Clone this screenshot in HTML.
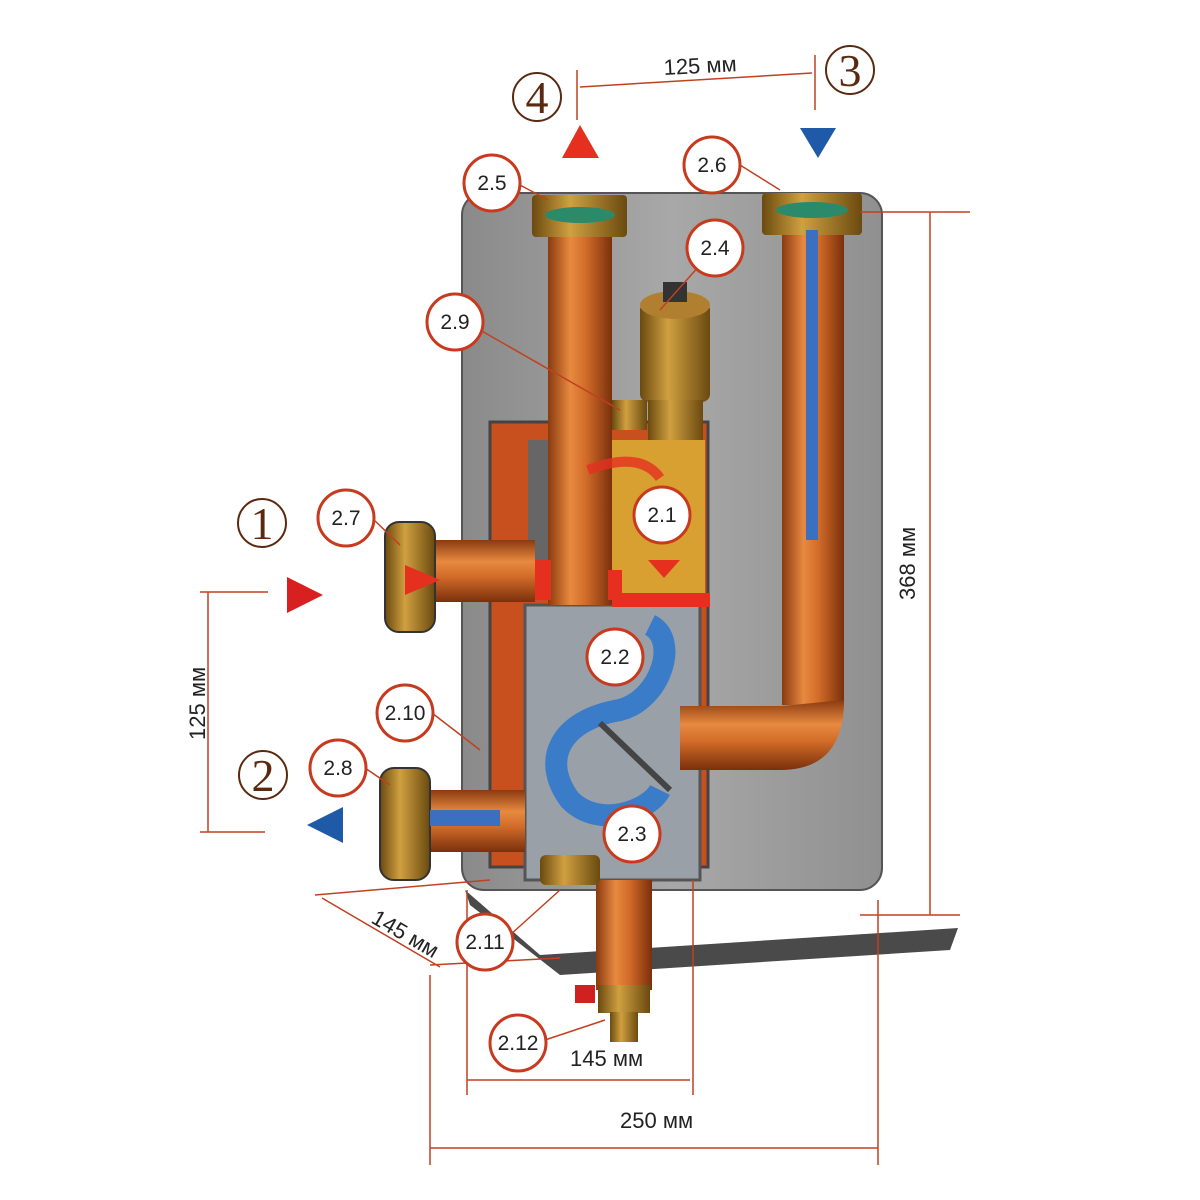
<!DOCTYPE html>
<html><head><meta charset="utf-8"><style>
html,body{margin:0;padding:0;background:#fff}
svg{display:block}
.lbl{font-family:"Liberation Sans",sans-serif;font-size:21px;fill:#222;text-anchor:middle}
.dim{font-family:"Liberation Sans",sans-serif;font-size:22px;fill:#222}
.big{font-family:"Liberation Serif",serif;font-size:46px;fill:#5a2a10;text-anchor:middle}
</style></head><body>
<svg width="1200" height="1200" viewBox="0 0 1200 1200" xmlns="http://www.w3.org/2000/svg">
<defs>
<linearGradient id="cu" x1="0" x2="1" y1="0" y2="0">
<stop offset="0" stop-color="#8a3a10"/><stop offset="0.35" stop-color="#e88a40"/><stop offset="0.6" stop-color="#d06a28"/><stop offset="1" stop-color="#7a300c"/></linearGradient>
<linearGradient id="cuh" x1="0" x2="0" y1="0" y2="1">
<stop offset="0" stop-color="#8a3a10"/><stop offset="0.35" stop-color="#e88a40"/><stop offset="0.6" stop-color="#d06a28"/><stop offset="1" stop-color="#7a300c"/></linearGradient>
<linearGradient id="br" x1="0" x2="1"><stop offset="0" stop-color="#6a4a10"/><stop offset="0.4" stop-color="#d0a040"/><stop offset="1" stop-color="#6a4a10"/></linearGradient>
<linearGradient id="gr" x1="0" x2="1"><stop offset="0" stop-color="#8a8a8a"/><stop offset="0.5" stop-color="#a8a8a8"/><stop offset="1" stop-color="#909090"/></linearGradient>
</defs>
<rect width="1200" height="1200" fill="#fff"/>
<!-- panel -->
<rect x="462" y="193" width="420" height="697" rx="22" fill="url(#gr)" stroke="#555" stroke-width="2"/>
<!-- bracket -->
<polygon points="465,890 470,905 560,975 950,950 958,928 540,955" fill="#4a4a4a"/>
<!-- orange box -->
<rect x="490" y="422" width="218" height="445" fill="#c8501e" stroke="#444" stroke-width="3"/>
<rect x="528" y="440" width="60" height="160" fill="#666"/>
<rect x="600" y="440" width="105" height="160" fill="#d8a030"/>
<!-- gray chamber -->
<rect x="525" y="605" width="175" height="275" fill="#9aa0a8" stroke="#555" stroke-width="3"/>
<path d="M650,625 C680,640 660,700 620,710 C560,720 540,760 570,800 C600,830 650,810 660,790" stroke="#3b7cc8" stroke-width="22" fill="none"/>
<line x1="600" y1="723" x2="670" y2="790" stroke="#444" stroke-width="6"/>
<!-- left vertical pipe -->
<rect x="548" y="215" width="64" height="390" fill="url(#cu)"/>
<rect x="532" y="195" width="95" height="42" fill="url(#br)" rx="4"/>
<ellipse cx="580" cy="215" rx="35" ry="8" fill="#2a8a6a"/>
<!-- right pipe -->
<rect x="782" y="215" width="62" height="490" fill="url(#cu)"/>
<path d="M844,700 Q844,770 780,770 L680,770 L680,706 L782,706 Z" fill="url(#cuh)"/>
<rect x="762" y="193" width="100" height="42" fill="url(#br)" rx="4"/>
<ellipse cx="812" cy="210" rx="36" ry="8" fill="#2a8a6a"/>
<rect x="806" y="230" width="12" height="310" fill="#3b6fc0"/>
<!-- air vent -->
<rect x="640" y="302" width="70" height="100" rx="8" fill="url(#br)"/>
<ellipse cx="675" cy="305" rx="35" ry="14" fill="#b08030"/>
<rect x="663" y="282" width="24" height="20" fill="#333"/>
<rect x="648" y="400" width="55" height="40" fill="url(#br)"/>
<rect x="612" y="400" width="35" height="30" fill="url(#br)"/>
<!-- red arrows -->
<path d="M615,600 L615,570 M612,600 L710,600" stroke="#e53020" stroke-width="14" fill="none"/>
<polygon points="648,560 680,560 664,578" fill="#e53020"/>
<path d="M588,470 Q640,450 660,478" stroke="#e53020" stroke-width="10" fill="none" opacity="0.8"/>
<rect x="535" y="560" width="16" height="40" fill="#e53020"/>
<!-- inlet 2.7 -->
<rect x="430" y="540" width="105" height="62" fill="url(#cuh)"/>
<rect x="385" y="522" width="50" height="110" rx="14" fill="url(#br)" stroke="#333" stroke-width="2"/>
<polygon points="405,565 440,580 405,595" fill="#e53020"/>
<!-- outlet 2.8 -->
<rect x="425" y="790" width="100" height="62" fill="url(#cuh)"/>
<rect x="380" y="768" width="50" height="112" rx="14" fill="url(#br)" stroke="#333" stroke-width="2"/>
<rect x="430" y="810" width="70" height="16" fill="#3b6fc0"/>
<!-- bottom drain -->
<rect x="596" y="880" width="56" height="110" fill="url(#cu)"/>
<rect x="540" y="855" width="60" height="30" rx="6" fill="url(#br)"/>
<rect x="598" y="985" width="52" height="28" fill="url(#br)"/>
<rect x="575" y="985" width="20" height="18" fill="#d02020"/>
<rect x="610" y="1012" width="28" height="30" fill="url(#br)"/>
<!-- triangles -->
<polygon points="562,158 599,158 580,125" fill="#e53020"/>
<polygon points="800,128 836,128 818,158" fill="#1f5aa8"/>
<polygon points="287,577 287,613 323,595" fill="#d82020"/>
<polygon points="343,807 343,843 307,825" fill="#1f5aa8"/>
<!-- dimension lines -->
<g stroke="#c04020" stroke-width="1.5" fill="none">
<line x1="580" y1="87" x2="812" y2="73"/><line x1="577" y1="70" x2="577" y2="120"/><line x1="815" y1="55" x2="815" y2="110"/>
<line x1="930" y1="212" x2="930" y2="915"/><line x1="860" y1="212" x2="970" y2="212"/><line x1="860" y1="915" x2="960" y2="915"/>
<line x1="208" y1="592" x2="208" y2="832"/><line x1="200" y1="592" x2="268" y2="592"/><line x1="200" y1="832" x2="265" y2="832"/>
<line x1="467" y1="1080" x2="690" y2="1080"/><line x1="467" y1="890" x2="467" y2="1095"/><line x1="693" y1="880" x2="693" y2="1095"/>
<line x1="430" y1="1148" x2="878" y2="1148"/><line x1="430" y1="975" x2="430" y2="1165"/><line x1="878" y1="900" x2="878" y2="1165"/>
<line x1="322" y1="898" x2="440" y2="967"/><line x1="315" y1="895" x2="490" y2="880"/><line x1="430" y1="965" x2="560" y2="958"/>
</g>
<text class="dim" x="664" y="75" transform="rotate(-3 664 75)">125 мм</text>
<text class="dim" x="915" y="600" transform="rotate(-90 915 600)">368 мм</text>
<text class="dim" x="205" y="740" transform="rotate(-90 205 740)">125 мм</text>
<text class="dim" x="570" y="1066">145 мм</text>
<text class="dim" x="620" y="1128">250 мм</text>
<text class="dim" x="370" y="922" transform="rotate(30 370 922)">145 мм</text>
<!-- big circled numbers -->
<g fill="none" stroke="#5a2a10" stroke-width="2">
<circle cx="537" cy="97" r="24"/><circle cx="850" cy="70" r="24"/><circle cx="262" cy="523" r="24"/><circle cx="263" cy="775" r="24"/></g>
<text class="big" x="537" y="113">4</text><text class="big" x="850" y="86">3</text><text class="big" x="262" y="539">1</text><text class="big" x="263" y="791">2</text>
<!-- leader lines -->
<g stroke="#c04020" stroke-width="1.5">
<line x1="520" y1="185" x2="548" y2="200"/><line x1="740" y1="165" x2="780" y2="190"/><line x1="700" y1="265" x2="660" y2="310"/>
<line x1="480" y1="330" x2="620" y2="410"/><line x1="372" y1="518" x2="400" y2="545"/><line x1="365" y1="768" x2="390" y2="785"/>
<line x1="432" y1="713" x2="480" y2="750"/><line x1="510" y1="935" x2="560" y2="890"/><line x1="545" y1="1040" x2="605" y2="1020"/>
</g>
<!-- labels -->
<g fill="#fff" stroke="#c83a1e" stroke-width="3">
<circle cx="492" cy="183" r="28"/><circle cx="712" cy="165" r="28"/><circle cx="715" cy="248" r="28"/><circle cx="455" cy="322" r="28"/>
<circle cx="662" cy="515" r="28"/><circle cx="346" cy="518" r="28"/><circle cx="615" cy="657" r="28"/><circle cx="405" cy="713" r="28"/>
<circle cx="338" cy="768" r="28"/><circle cx="632" cy="834" r="28"/><circle cx="485" cy="942" r="28"/><circle cx="518" cy="1043" r="28"/>
</g>
<text class="lbl" x="492" y="190">2.5</text><text class="lbl" x="712" y="172">2.6</text><text class="lbl" x="715" y="255">2.4</text><text class="lbl" x="455" y="329">2.9</text>
<text class="lbl" x="662" y="522">2.1</text><text class="lbl" x="346" y="525">2.7</text><text class="lbl" x="615" y="664">2.2</text><text class="lbl" x="405" y="720">2.10</text>
<text class="lbl" x="338" y="775">2.8</text><text class="lbl" x="632" y="841">2.3</text><text class="lbl" x="485" y="949">2.11</text><text class="lbl" x="518" y="1050">2.12</text>
</svg>
</body></html>
